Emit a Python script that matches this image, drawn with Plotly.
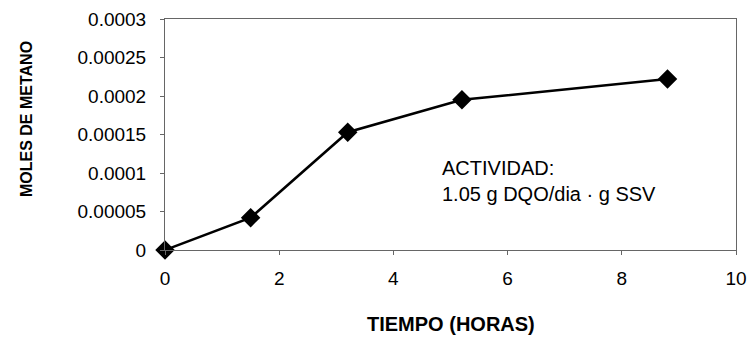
import plotly.graph_objects as go

# Methane production over time
tiempo_horas = [0, 1.5, 3.2, 5.2, 8.8]
moles_metano = [0, 0.000042, 0.000153, 0.000195, 0.000222]

x_ticks = [0, 2, 4, 6, 8, 10]
y_ticks = [0, 0.00005, 0.0001, 0.00015, 0.0002, 0.00025, 0.0003]
y_tick_text = ["0", "0.00005", "0.0001", "0.00015", "0.0002", "0.00025", "0.0003"]

x_title = "TIEMPO (HORAS)"
y_title = "MOLES DE METANO"
nota = "ACTIVIDAD:<br>1.05 g DQO/dia · g SSV"

FONT = "Liberation Sans, Arial, sans-serif"

fig = go.Figure()
fig.add_trace(go.Scatter(
    x=tiempo_horas,
    y=moles_metano,
    mode="lines+markers",
    line=dict(color="black", width=2.5),
    marker=dict(symbol="diamond", size=15, color="black"),
    showlegend=False,
    cliponaxis=False,
))

axis_common = dict(
    showgrid=False,
    zeroline=False,
    showline=True,
    mirror=True,
    linecolor="#666666",
    linewidth=1,
    ticks="outside",
    ticklen=4,
    tickcolor="#666666",
    automargin=False,
    tickfont=dict(family=FONT, size=19, color="black"),
)

fig.update_xaxes(
    range=[0, 10],
    tickvals=x_ticks,
    ticklabelstandoff=7,
    **axis_common,
)
fig.update_yaxes(
    range=[0, 0.0003],
    tickvals=y_ticks,
    ticktext=y_tick_text,
    ticklabelstandoff=10,
    **axis_common,
)

fig.add_annotation(
    text=f"<b>{x_title}</b>",
    xref="paper", yref="paper", x=0.5, y=-0.3225,
    xanchor="center", yanchor="middle", showarrow=False,
    font=dict(family=FONT, size=20, color="black"),
)
fig.add_annotation(
    text=f"<b>{y_title}</b>",
    xref="paper", yref="paper", x=-0.2434, y=0.567,
    xanchor="center", yanchor="middle", showarrow=False, textangle=-90,
    font=dict(family=FONT, size=16, color="black"),
)
fig.add_annotation(
    text=nota,
    xref="x", yref="y", x=4.81, y=0.0000896,
    xanchor="left", yanchor="middle", align="left", showarrow=False,
    font=dict(family=FONT, size=20, color="black"),
)

fig.update_layout(
    width=747,
    height=340,
    margin=dict(l=165, r=11, t=19, b=90),
    paper_bgcolor="white",
    plot_bgcolor="white",
)

fig.write_html("out.html")
